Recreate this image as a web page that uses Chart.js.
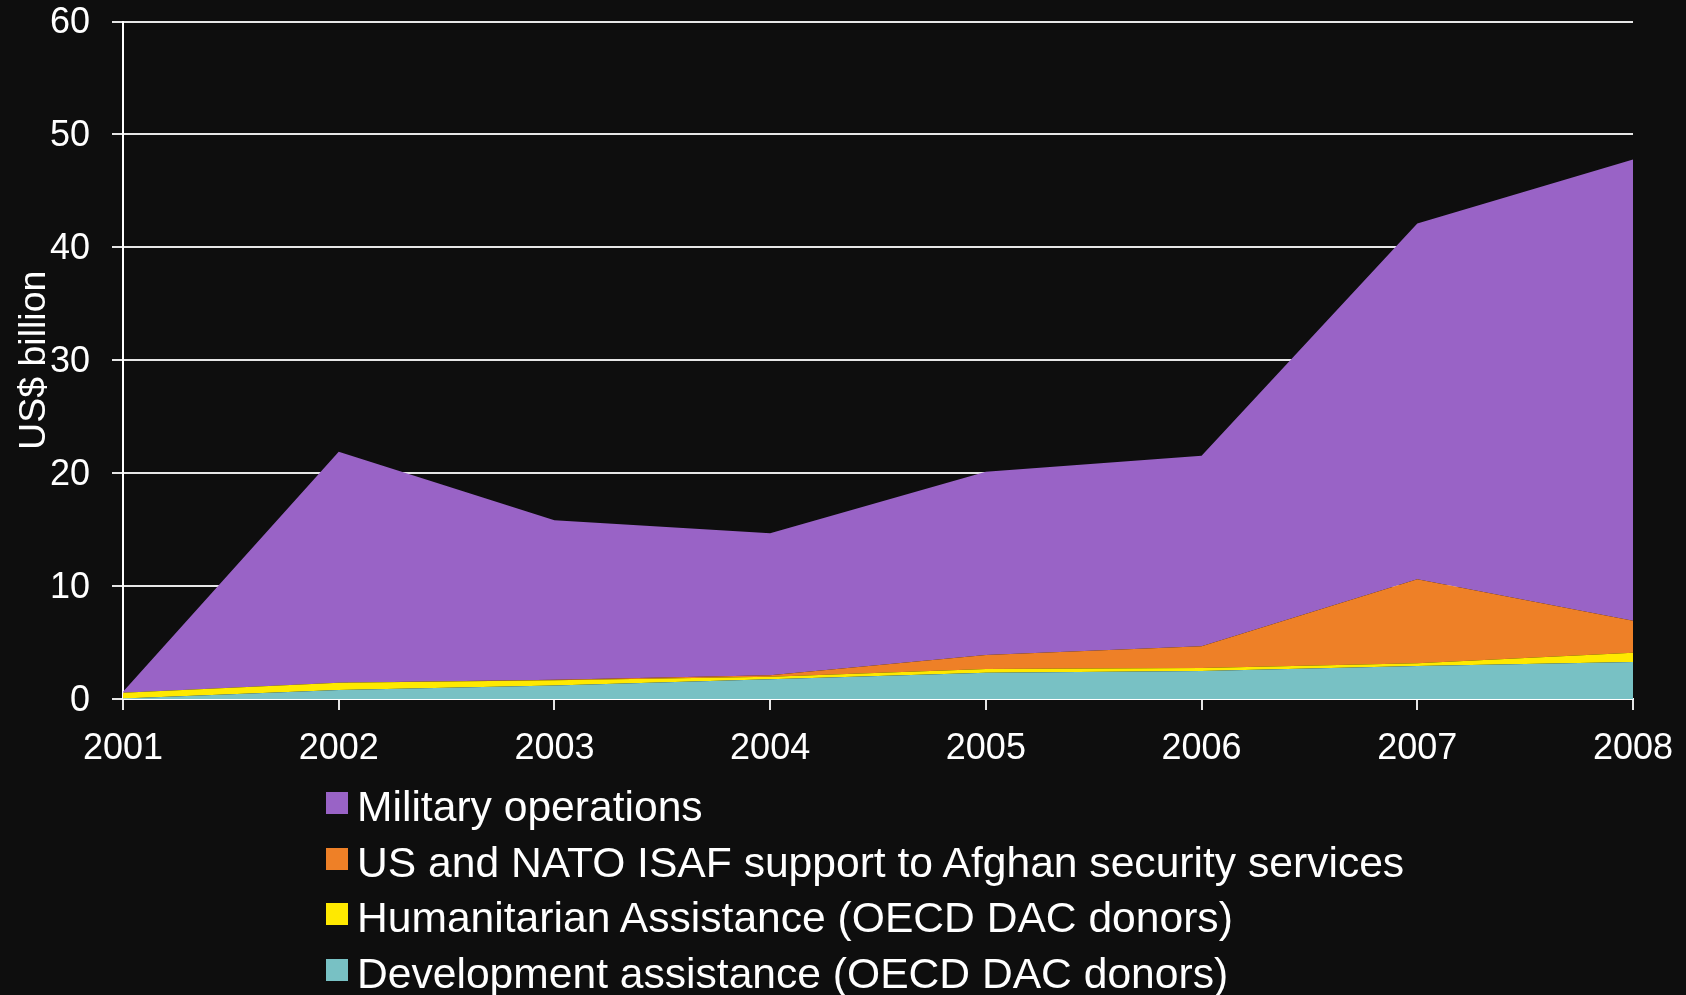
<!DOCTYPE html>
<html lang="en">
<head>
    <meta charset="UTF-8">
    <title>Afghanistan spending</title>
    <script src="https://cdn.jsdelivr.net/npm/chart.js"></script>
    <style>
        body { margin: 0; background: #0e0e0e; }
        #wrap { position: relative; width: 1686px; height: 995px; }
        #legend { position: absolute; left: 326px; top: 779px; font-family: "Liberation Sans", Arial, sans-serif; font-size: 42.6px; color: #fff; }
        .row { position: relative; height: 55.5px; line-height: 55.5px; padding-left: 31px; white-space: nowrap; }
        .box { position: absolute; left: 0; top: 13px; width: 22px; height: 22px; }
    </style>
</head>
<body>
<div id="wrap">
    <canvas id="chart"></canvas>
    <div id="legend"></div>
</div>
<script>
    const years = ['2001', '2002', '2003', '2004', '2005', '2006', '2007', '2008'];
    const yTicks = [0, 10, 20, 30, 40, 50, 60];

    // US$ billion, stacked from the bottom up
    const development = [0.05, 0.8, 1.2, 1.75, 2.33, 2.48, 2.92, 3.28];
    const humanitarian = [0.5, 0.65, 0.45, 0.23, 0.33, 0.27, 0.24, 0.82];
    const isaf = [0, 0, 0.05, 0.12, 1.24, 1.92, 7.44, 2.84];
    const military = [0.1, 20.45, 14.13, 12.58, 16.23, 16.88, 31.5, 40.83];

    const seriesNames = [
        'Development assistance (OECD DAC donors)',
        'Humanitarian Assistance (OECD DAC donors)',
        'US and NATO ISAF support to Afghan security services',
        'Military operations'
    ];
    const seriesColors = ['#78c1c4', '#ffe900', '#ee8027', '#9963c6'];
    const seriesData = [development, humanitarian, isaf, military];

    const font = 'Liberation Sans, Arial, sans-serif';

    const datasets = seriesData.map((d, i) => ({
        label: seriesNames[i],
        data: d,
        backgroundColor: seriesColors[i],
        borderColor: seriesColors[i],
        borderWidth: 0,
        pointRadius: 0,
        tension: 0,
        fill: i === 0 ? 'origin' : '-1'
    }));

    const chart = new Chart(document.getElementById('chart'), {
        type: 'line',
        data: { labels: years, datasets: datasets },
        options: {
            responsive: true,
            maintainAspectRatio: false,
            animation: false,
            layout: { padding: { top: 21.5, right: 53, left: 0, bottom: 0 } },
            plugins: { legend: { display: false }, tooltip: { enabled: false } },
            scales: {
                x: {
                    afterFit: s => { s.height = 296; s.paddingLeft = 0; s.paddingRight = 0; },
                    grid: { drawOnChartArea: false, drawTicks: true, tickLength: 11, color: '#e6e6e6', lineWidth: 2 },
                    border: { color: '#ffffff', width: 2 },
                    ticks: { color: '#ffffff', font: { family: font, size: 36 }, padding: 17, maxRotation: 0, autoSkip: false }
                },
                y: {
                    stacked: true,
                    min: 0,
                    max: 60,
                    afterFit: s => { s.width = 123; s.paddingTop = 0; s.paddingBottom = 0; },
                    afterBuildTicks: s => { s.ticks = yTicks.map(v => ({ value: v })); },
                    grid: { color: '#e6e6e6', lineWidth: 2, tickLength: 11 },
                    border: { color: '#ffffff', width: 2 },
                    ticks: { color: '#ffffff', font: { family: font, size: 36 }, padding: 22, labelOffset: 2 },
                    title: { display: true, text: 'US$ billion', color: '#ffffff', font: { family: font, size: 37.5 }, padding: { top: 12, bottom: 0 } }
                }
            }
        }
    });

    // legend, top of the stack first
    const legend = document.getElementById('legend');
    chart.data.datasets.slice().reverse().forEach(ds => {
        const row = document.createElement('div');
        row.className = 'row';
        row.innerHTML = '<span class="box" style="background:' + ds.backgroundColor + '"></span>' + ds.label;
        legend.appendChild(row);
    });
</script>
</body>
</html>
